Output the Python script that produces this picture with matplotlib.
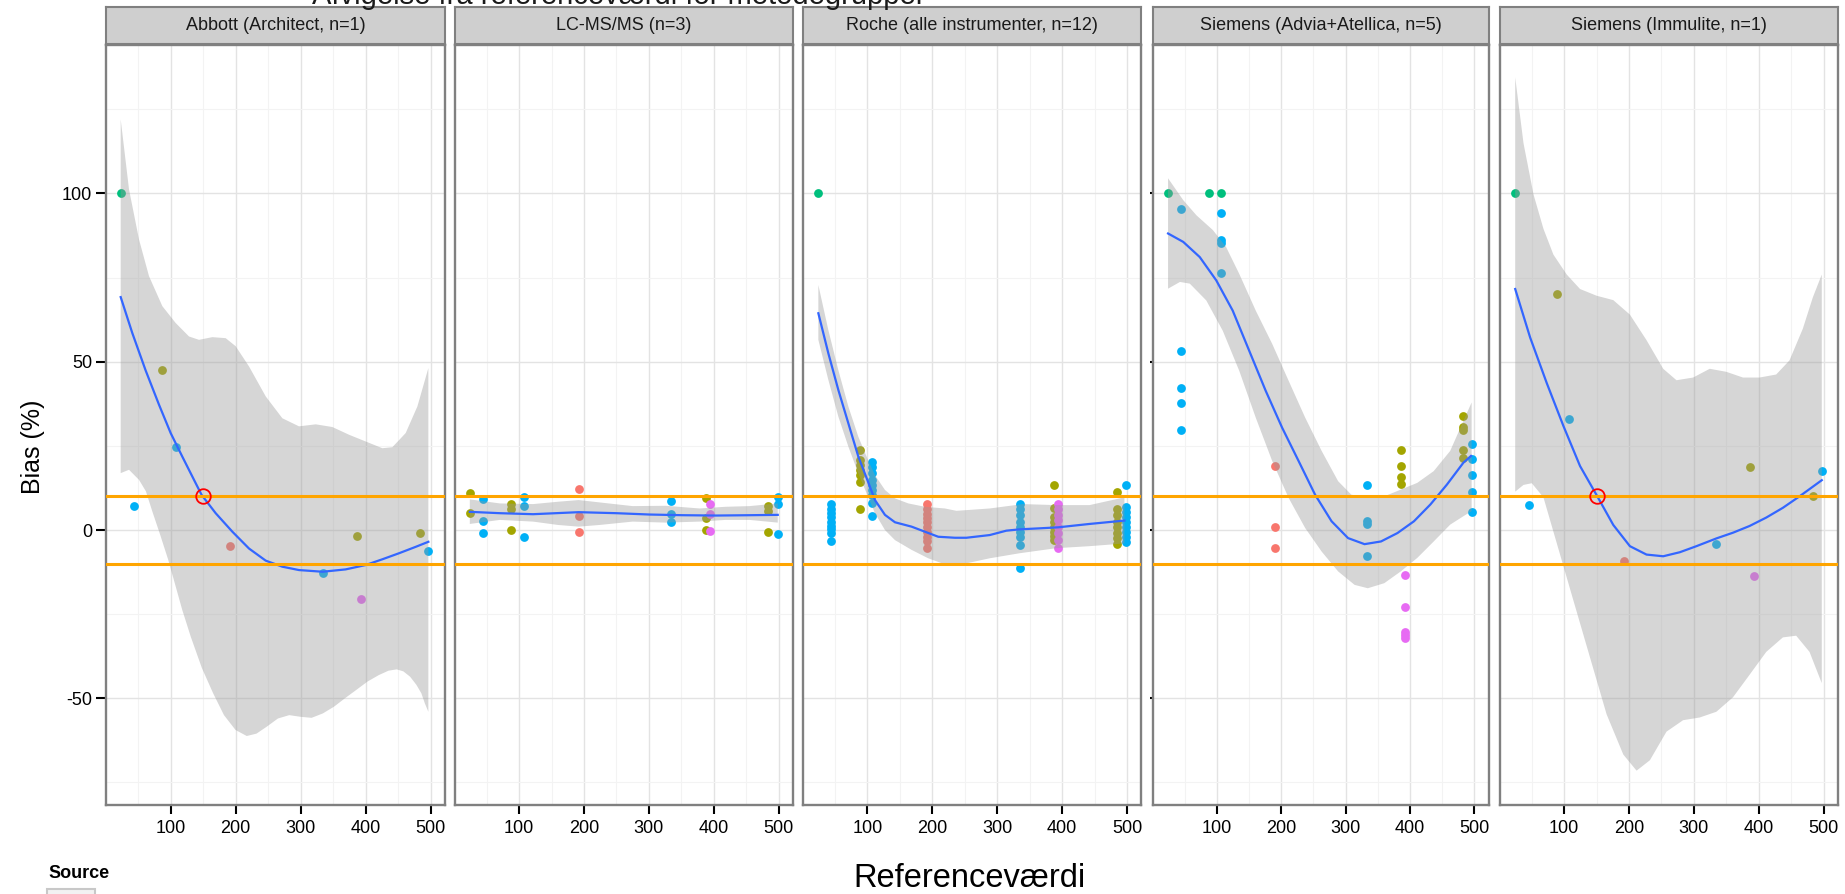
import matplotlib
matplotlib.use("Agg")
import matplotlib.pyplot as plt
from matplotlib.patches import Rectangle
from matplotlib.ticker import FixedLocator
from matplotlib import font_manager

plt.rcParams['font.family'] = ['Liberation Sans', 'DejaVu Sans']
plt.rcParams['axes.unicode_minus'] = False

# ---------------- data ----------------
title_text = "Afvigelse fra referenceværdi for metodegrupper"
x_label = "Referenceværdi"
y_label = "Bias (%)"
legend_title = "Source"

panel_titles = ["Abbott (Architect, n=1)", "LC-MS/MS (n=3)",
                "Roche (alle instrumenter, n=12)",
                "Siemens (Advia+Atellica, n=5)", "Siemens (Immulite, n=1)"]

source_colors = {"S1": "#F8766D", "S2": "#A3A500", "S3": "#00BF7D",
                 "S4": "#00B0F6", "S5": "#E76BF3"}

x_major = [100, 200, 300, 400, 500]
x_minor = [50, 150, 250, 350, 450]
y_major = [-50, 0, 50, 100]
y_minor = [-75, -25, 25, 75, 125]
limit_lines = [10, -10]
highlight_x = 150
highlight_y = 10
highlight_panels = [0, 4]

# Abbott
abbott_x = [23.1, 43.6, 87.2, 107.7, 190.8, 333.8, 386.2, 393.3, 483.6, 496.4]
abbott_y = [[100], [7.2], [47.4], [24.6], [-4.8], [-12.8], [-1.8], [-20.6], [-0.8], [-6.3]]
abbott_src = ["S3", "S4", "S2", "S4", "S1", "S4", "S2", "S5", "S2", "S4"]
abbott_fit_x = [23.1, 41.0, 61.5, 82.1, 100.0, 117.9, 138.5, 147.7, 169.2, 194.9, 220.5,
                246.2, 271.8, 297.4, 333.8, 369.2, 400.0, 425.6, 451.3, 476.9, 496.4]
abbott_fit_y = [69.2, 58.5, 47.4, 37.2, 28.8, 21.8, 13.9, 10.4, 5.0, -0.5, -5.5,
                -9.1, -10.9, -11.9, -12.4, -11.7, -10.4, -8.7, -6.9, -5.0, -3.5]
abbott_up_x = [23.1, 35.9, 51.3, 66.7, 87.2, 107.7, 128.2, 143.6, 164.1, 184.6, 200.0, 220.5,
               246.2, 271.8, 297.4, 323.1, 348.7, 374.4, 400.0, 425.6, 441.0, 461.5, 479.5, 496.4]
abbott_up_y = [122.0, 101.2, 86.3, 75.4, 66.5, 61.5, 57.5, 56.5, 57.3, 57.0, 54.6, 48.6,
               39.7, 33.2, 30.8, 31.4, 30.6, 28.3, 26.3, 24.3, 24.6, 28.8, 36.7, 48.1]
abbott_lo_x = [23.1, 35.9, 51.3, 61.9, 71.8, 84.0, 96.3, 117.9, 130.9, 148.0, 165.3, 182.0,
               199.7, 217.0, 232.0, 248.0, 265.0, 282.4, 300.0, 316.8, 334.0, 351.2, 368.0,
               385.6, 403.0, 420.2, 435.0, 447.7, 458.0, 468.4, 478.0, 485.6, 491.0, 496.4]
abbott_lo_y = [16.9, 17.9, 14.9, 11.5, 5.5, -1.5, -8.9, -23.8, -31.7, -41.0, -48.5, -55.0,
               -59.4, -61.2, -60.5, -58.4, -56.0, -55.0, -55.5, -55.8, -54.5, -52.5, -50.0,
               -47.5, -45.0, -43.1, -41.8, -41.4, -42.0, -43.6, -46.0, -48.5, -51.5, -54.0]

# LC-MS/MS
lcms_x = [24.1, 44.6, 88.2, 107.7, 191.8, 334.4, 387.2, 393.8, 484.1, 498.5]
lcms_y = [[10.9, 5.2], [9.3, 2.7, -0.8], [7.7, 6.1, 0.0], [9.7, 7.2, -2.0], [12.2, 4.3, -0.6],
          [8.6, 4.7, 2.5], [9.4, 3.7, 0.0], [7.8, 4.7, -0.4], [7.2, 5.7, -0.6], [9.9, 7.6, -1.3]]
lcms_src = ["S2", "S4", "S2", "S4", "S1", "S4", "S2", "S5", "S2", "S4"]
lcms_fit_x = [24.1, 70.3, 121.5, 191.8, 249.7, 301.0, 352.3, 403.6, 454.9, 498.5]
lcms_fit_y = [5.4, 5.0, 4.7, 5.3, 5.0, 4.6, 4.4, 4.3, 4.4, 4.5]
lcms_up_x = [24.1, 70.3, 121.5, 160.0, 191.8, 224.0, 275.0, 326.0, 378.0, 418.0, 454.9, 498.5]
lcms_up_y = [9.1, 7.9, 7.7, 8.4, 8.9, 8.2, 7.1, 7.2, 6.4, 6.9, 7.1, 7.9]
lcms_lo_x = [24.1, 70.3, 121.5, 160.0, 191.8, 224.0, 275.0, 326.0, 378.0, 418.0, 454.9, 498.5]
lcms_lo_y = [1.8, 3.0, 2.5, 1.5, 1.0, 1.5, 2.5, 2.2, 2.5, 3.0, 3.0, 2.2]

# Roche
roche_x = [23.6, 44.6, 88.2, 107.1, 191.2, 334.5, 387.3, 394.0, 484.7, 498.6]
roche_y = [[100],
           [7.6, 6.2, 5.0, 3.8, 2.5, 1.2, 0.2, -1.0, -3.4],
           [23.8, 20.8, 19.3, 17.8, 16.3, 14.4, 6.1],
           [20.1, 18.8, 16.8, 14.9, 13.4, 11.9, 10.4, 7.9, 4.2],
           [7.7, 6.1, 4.9, 3.5, 2.5, 1.0, -0.5, -2.0, -3.2, -5.4],
           [7.6, 6.1, 4.5, 2.5, 1.0, -0.5, -2.2, -4.5, -11.4],
           [13.4, 6.4, 4.0, 2.5, 1.0, -0.5, -1.8, -3.0],
           [7.7, 6.1, 4.5, 3.0, 1.0, -1.0, -3.0, -5.4],
           [11.2, 6.1, 4.5, 2.5, 1.0, -0.8, -2.5, -4.3],
           [13.3, 6.9, 5.4, 4.0, 2.5, 1.0, -0.5, -2.2, -3.5]]
roche_src = ["S3", "S4", "S2", "S4", "S1", "S4", "S2", "S5", "S2", "S4"]
roche_fit_x = [24.6, 40.0, 55.4, 70.8, 86.2, 100.0, 111.8, 127.2, 142.6, 168.2, 188.7,
               209.2, 234.9, 252.6, 288.5, 314.1, 334.6, 365.4, 394.0, 442.2, 496.0]
roche_fit_y = [64.4, 52.5, 41.6, 31.7, 21.8, 14.9, 8.9, 4.5, 2.3, 1.0, -0.5,
               -2.0, -2.3, -2.3, -1.5, -0.2, 0.2, 0.5, 0.8, 1.8, 2.8]
roche_up_x = [24.6, 40.0, 55.4, 70.8, 86.2, 100.0, 111.8, 127.2, 142.6, 163.1, 188.7,
              219.5, 237.3, 288.5, 339.6, 391.0, 442.2, 496.0]
roche_up_y = [72.8, 59.4, 47.5, 36.7, 27.7, 21.3, 16.3, 11.9, 9.4, 7.9, 6.9,
              6.4, 5.7, 6.4, 7.7, 7.4, 7.4, 9.7]
roche_lo_x = [24.6, 40.0, 55.4, 70.8, 86.2, 111.8, 127.2, 142.6, 168.2, 193.8, 219.5,
              252.6, 288.5, 334.6, 391.0, 442.2, 496.0]
roche_lo_y = [56.5, 44.6, 33.7, 24.8, 16.8, 5.0, 0.0, -3.0, -5.9, -8.4, -10.2,
              -9.9, -8.4, -6.9, -5.4, -4.8, -4.0]

# Siemens (Advia+Atellica)
advia_x = [24.2, 44.7, 87.7, 107.2, 107.2, 191.1, 333.5, 386.2, 392.4, 483.0, 495.8]
advia_y = [[100], [95.3, 53.3, 42.1, 37.7, 29.6], [100], [100], [94.3, 86.1, 85.3, 76.4],
           [18.9, 1.0, -5.2], [13.4, 2.8, 1.8, -7.6], [23.8, 19.1, 15.7, 13.8],
           [-13.3, -22.9, -30.2, -31.2, -32.2], [33.9, 30.6, 29.8, 23.7, 21.3],
           [25.5, 21.0, 16.3, 11.3, 5.3]]
advia_src = ["S3", "S4", "S3", "S3", "S4", "S1", "S4", "S2", "S5", "S2", "S4"]
advia_fit_x = [24.2, 47.8, 73.4, 99.0, 124.6, 150.2, 175.8, 201.4, 227.0, 252.6, 278.2,
               303.8, 329.4, 355.0, 380.6, 406.2, 431.8, 457.4, 483.0, 494.8]
advia_fit_y = [88.1, 85.6, 81.1, 74.2, 65.2, 53.3, 41.4, 30.4, 20.5, 10.5, 2.6,
               -2.4, -4.2, -3.4, -0.9, 2.6, 7.6, 13.5, 20.0, 22.0]
advia_up_x = [24.2, 47.8, 68.3, 93.9, 114.3, 134.8, 160.4, 186.0, 211.6, 237.2, 262.8,
              288.4, 308.9, 334.5, 360.1, 385.7, 411.3, 436.9, 462.5, 483.0, 495.8]
advia_up_y = [104.5, 98.0, 93.5, 89.1, 84.1, 76.1, 65.2, 55.3, 44.3, 33.4, 23.5,
              14.5, 10.5, 9.5, 10.0, 12.0, 14.0, 17.5, 23.5, 32.4, 37.9]
advia_lo_x = [24.2, 42.7, 58.0, 83.6, 109.2, 134.8, 160.4, 186.0, 211.6, 237.2, 262.8,
              288.4, 314.0, 334.5, 360.1, 385.7, 411.3, 436.9, 462.5, 483.0, 495.8]
advia_lo_y = [71.7, 73.7, 73.2, 68.2, 59.2, 47.3, 33.4, 20.5, 9.5, 0.6, -6.4,
              -12.3, -16.3, -17.3, -15.8, -12.3, -8.3, -3.4, 1.6, 4.1, 5.6]

# Siemens (Immulite)
immu_x = [24.7, 46.2, 88.7, 108.2, 191.7, 334.1, 386.9, 393.0, 483.2, 497.0]
immu_y = [[100], [7.3], [70.0], [33.1], [-9.2], [-4.2], [18.7], [-13.8], [10.0], [17.5]]
immu_src = ["S3", "S4", "S2", "S4", "S1", "S4", "S2", "S5", "S2", "S4"]
immu_fit_x = [24.7, 47.7, 73.4, 99.0, 124.6, 151.2, 175.8, 201.4, 227.0, 252.7, 278.3,
              303.9, 334.6, 360.2, 385.8, 411.5, 437.1, 462.7, 497.0]
immu_fit_y = [71.6, 57.2, 43.6, 30.9, 19.0, 10.0, 1.5, -4.8, -7.3, -7.8, -6.6,
              -4.8, -2.5, -0.8, 1.2, 3.7, 6.6, 10.0, 14.8]
immu_up_x = [24.7, 37.5, 52.9, 68.2, 83.6, 104.1, 124.6, 150.2, 175.8, 201.4, 227.0,
             252.7, 273.2, 298.8, 324.4, 350.0, 375.6, 401.2, 426.8, 447.3, 467.8, 483.2, 497.0]
immu_up_y = [134.5, 114.9, 99.7, 89.5, 81.8, 75.9, 71.6, 69.6, 68.3, 64.0, 56.4,
             47.9, 44.5, 45.3, 47.9, 47.0, 45.3, 45.3, 46.2, 50.4, 59.8, 69.1, 75.9]
immu_lo_x = [24.7, 37.5, 50.3, 68.2, 88.7, 114.3, 140.0, 165.6, 191.2, 211.7, 232.2,
             257.8, 283.4, 309.0, 334.6, 360.2, 385.8, 411.5, 437.1, 457.6, 478.1, 497.0]
immu_lo_y = [11.4, 13.4, 13.9, 9.7, -3.9, -20.9, -37.9, -54.8, -66.7, -71.5, -68.4,
             -59.9, -56.5, -55.7, -54.0, -49.7, -43.0, -36.2, -31.9, -31.4, -36.2, -45.5]

panels = [
    (abbott_x, abbott_y, abbott_src, abbott_fit_x, abbott_fit_y, abbott_up_x, abbott_up_y, abbott_lo_x, abbott_lo_y),
    (lcms_x, lcms_y, lcms_src, lcms_fit_x, lcms_fit_y, lcms_up_x, lcms_up_y, lcms_lo_x, lcms_lo_y),
    (roche_x, roche_y, roche_src, roche_fit_x, roche_fit_y, roche_up_x, roche_up_y, roche_lo_x, roche_lo_y),
    (advia_x, advia_y, advia_src, advia_fit_x, advia_fit_y, advia_up_x, advia_up_y, advia_lo_x, advia_lo_y),
    (immu_x, immu_y, immu_src, immu_fit_x, immu_fit_y, immu_up_x, immu_up_y, immu_lo_x, immu_lo_y),
]

# ---------------- layout (pixels) ----------------
W, H = 1845, 894
panel_left = [106, 454.5, 802.7, 1152.8, 1499.5]
panel_right = [445, 793, 1141.3, 1488.5, 1838]
plot_top, plot_bottom = 45, 805
strip_top, strip_bottom = 7, 44
XLIM = (0.5, 522)
YLIM = (-81.7, 144.1)

installed = {f.name for f in font_manager.fontManager.ttflist}
if 'Liberation Sans Narrow' in installed:
    ylab_family, ylab_size = ['Liberation Sans Narrow', 'DejaVu Sans'], 22
else:
    ylab_family, ylab_size = ['Liberation Sans', 'DejaVu Sans'], 18

fig = plt.figure(figsize=(W / 100, H / 100), dpi=100)
fig.patch.set_facecolor('white')

for i, (px, py, psrc, fx, fy, ux, uy, lx, ly) in enumerate(panels):
    l, r = panel_left[i], panel_right[i]
    ax = fig.add_axes([l / W, 1 - plot_bottom / H, (r - l) / W, (plot_bottom - plot_top) / H])
    ax.set_xlim(*XLIM)
    ax.set_ylim(*YLIM)
    ax.set_facecolor('white')
    ax.xaxis.set_major_locator(FixedLocator(x_major))
    ax.xaxis.set_minor_locator(FixedLocator(x_minor))
    ax.yaxis.set_major_locator(FixedLocator(y_major))
    ax.yaxis.set_minor_locator(FixedLocator(y_minor))
    ax.grid(which='major', color='#E3E3E3', lw=1.0, zorder=0)
    ax.grid(which='minor', color='#F3F3F3', lw=0.8, zorder=0)
    ax.set_axisbelow(True)
    for s in ax.spines.values():
        s.set_color('#808080')
        s.set_linewidth(1.7)

    # points
    for xv, ys, sc in zip(px, py, psrc):
        ax.scatter([xv] * len(ys), ys, s=40, color=source_colors[sc], lw=0, zorder=2)
    # confidence ribbon
    ax.fill(list(ux) + list(lx)[::-1], list(uy) + list(ly)[::-1],
            color='#999999', alpha=0.4, lw=0, zorder=3)
    # smooth fit
    ax.plot(fx, fy, color='#3366FF', lw=1.6, zorder=4, solid_joinstyle='round')
    for yl in limit_lines:
        ax.axhline(yl, color='#FFA500', lw=2.2, zorder=5)
    if i in highlight_panels:
        ax.plot([highlight_x], [highlight_y], marker='o', ms=10.5, mfc='none',
                mec='#FF0000', mew=1.3, zorder=6)

    ax.tick_params(axis='x', which='major', length=6.5, width=1.5, color='black',
                   labelsize=13, pad=4, labelcolor='black')
    ax.tick_params(axis='both', which='minor', length=0)
    if i == 0:
        ax.tick_params(axis='y', which='major', length=7, width=1.5, color='black',
                       labelsize=13, pad=3, labelcolor='black')
    elif i == 3:
        ax.tick_params(axis='y', which='major', length=2, width=1.5, color='black',
                       labelleft=False)
    else:
        ax.tick_params(axis='y', which='major', length=0, labelleft=False)

    # strip
    sax = fig.add_axes([l / W, 1 - strip_bottom / H, (r - l) / W, (strip_bottom - strip_top) / H])
    sax.set_facecolor('#CFCFCF')
    sax.set_xticks([])
    sax.set_yticks([])
    for s in sax.spines.values():
        s.set_color('#808080')
        s.set_linewidth(1.5)
    sax.text(0.5, 0.5, panel_titles[i], ha='center', va='center', fontsize=13,
             color='#1A1A1A', transform=sax.transAxes)

# title (cut off at top in the reference)
fig.text(312 / W, 1 - 3.5 / H, title_text, fontsize=21, ha='left', va='baseline', color='#1A1A1A')
# axis titles
fig.text(970 / W, 7 / H, x_label, fontsize=23.5, ha='center', va='baseline', color='black')
fig.text(33 / W, 1 - 447 / H, y_label, fontsize=ylab_size, family=ylab_family, rotation=90,
         ha='center', va='center', color='black')
# legend (cut off at bottom)
fig.text(48 / W, 1 - 878 / H, legend_title, fontsize=13, fontweight='bold', ha='left', va='baseline')
fig.patches.append(Rectangle((47 / W, -0.02), 48 / W, 0.02 + 5 / H, transform=fig.transFigure,
                             facecolor='#F2F2F2', edgecolor='#C8C8C8', lw=1.5))

fig.savefig('out.png', dpi=100)
